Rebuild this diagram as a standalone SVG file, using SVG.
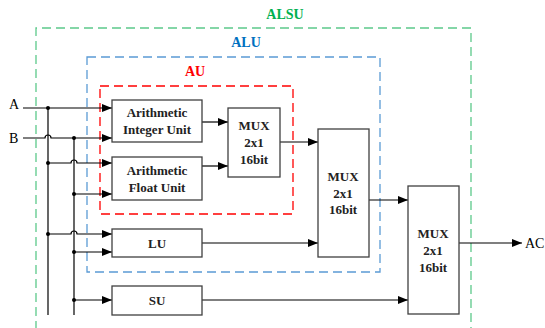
<svg xmlns="http://www.w3.org/2000/svg" width="545" height="328" viewBox="0 0 545 328">
<defs>
<marker id="ah" viewBox="0 0 10 8" refX="10" refY="4" markerWidth="10" markerHeight="8" markerUnits="userSpaceOnUse" orient="auto">
<path d="M0,0 L10,4 L0,8 Z" fill="#000"/>
</marker>
</defs>
<style>
.box{fill:#fff;stroke:#404040;stroke-width:1.3}
.lbl{font-family:"Liberation Serif",serif;font-weight:bold;font-size:13px;text-anchor:middle;fill:#222}
.io{font-family:"Liberation Serif",serif;font-size:14px;fill:#000}
.grp{fill:none;stroke-width:1.3;stroke-dasharray:9 5}
.ttl{font-family:"Liberation Serif",serif;font-weight:bold;font-size:14px;text-anchor:middle}
.w{fill:none;stroke:#000;stroke-width:1.2}
.a{fill:none;stroke:#000;stroke-width:1.2;marker-end:url(#ah)}
.dot{fill:#000}
</style>
<rect width="545" height="328" fill="#fff"/>
<g id="alsu">
<path class="grp" d="M36,330 L36,28 L471,28 L471,330" stroke="#5cc98a"/>
<text class="ttl" x="285" y="19" fill="#00b050">ALSU</text>
</g>
<g id="alu">
<rect class="grp" x="87" y="57" width="293" height="215" stroke="#5b9bd5"/>
<text class="ttl" x="246" y="47" fill="#0070c0">ALU</text>
</g>
<g id="au">
<rect class="grp" x="100" y="86" width="193" height="128" stroke="#ff0000"/>
<text class="ttl" x="195" y="76" fill="#ff0000">AU</text>
</g>
<g id="connectors">
<path class="a" d="M23,108 L112,108"/>
<path class="a" d="M23,138 L45,138 A3,3 0 0 1 51,138 L112,138"/>
<path class="w" d="M48,108 L48,315"/>
<path class="w" d="M74,138 L74,315"/>
<path class="a" d="M48,163 L71,163 A3,3 0 0 1 77,163 L112,163"/>
<path class="a" d="M74,194 L112,194"/>
<path class="a" d="M48,234 L71,234 A3,3 0 0 1 77,234 L112,234"/>
<path class="a" d="M74,252 L112,252"/>
<path class="a" d="M74,300 L112,300"/>
<circle class="dot" cx="48" cy="108" r="2"/>
<circle class="dot" cx="74" cy="138" r="2"/>
<circle class="dot" cx="48" cy="163" r="2"/>
<circle class="dot" cx="74" cy="194" r="2"/>
<circle class="dot" cx="48" cy="234" r="2"/>
<circle class="dot" cx="74" cy="252" r="2"/>
<circle class="dot" cx="74" cy="300" r="2"/>
<path class="a" d="M202,122 L228,122"/>
<path class="a" d="M202,166 L228,166"/>
<path class="a" d="M280,142 L318,142"/>
<path class="a" d="M202,243 L318,243"/>
<path class="a" d="M369,200 L408,200"/>
<path class="a" d="M202,300 L408,300"/>
<path class="a" d="M459,243 L522,243"/>
</g>
<g id="in-a"><text class="io" x="9" y="109">A</text></g>
<g id="in-b"><text class="io" x="9" y="143">B</text></g>
<g id="out-ac"><text class="io" x="525" y="248">AC</text></g>
<g id="aiu">
<rect class="box" x="112" y="100" width="90" height="42"/>
<text class="lbl" x="157" y="117">Arithmetic</text>
<text class="lbl" x="157" y="134">Integer Unit</text>
</g>
<g id="afu">
<rect class="box" x="112" y="157" width="90" height="43"/>
<text class="lbl" x="157" y="175">Arithmetic</text>
<text class="lbl" x="157" y="192">Float Unit</text>
</g>
<g id="lu">
<rect class="box" x="112" y="229" width="90" height="28"/>
<text class="lbl" x="157" y="248">LU</text>
</g>
<g id="su">
<rect class="box" x="112" y="286" width="90" height="29"/>
<text class="lbl" x="157" y="305">SU</text>
</g>
<g id="mux1">
<rect class="box" x="228" y="108" width="52" height="69"/>
<text class="lbl" x="254" y="130">MUX</text>
<text class="lbl" x="254" y="147">2x1</text>
<text class="lbl" x="254" y="164">16bit</text>
</g>
<g id="mux2">
<rect class="box" x="318" y="129" width="51" height="128"/>
<text class="lbl" x="343" y="181">MUX</text>
<text class="lbl" x="343" y="198">2x1</text>
<text class="lbl" x="343" y="214">16bit</text>
</g>
<g id="mux3">
<rect class="box" x="408" y="186" width="51" height="128"/>
<text class="lbl" x="433" y="238">MUX</text>
<text class="lbl" x="433" y="255">2x1</text>
<text class="lbl" x="433" y="272">16bit</text>
</g>
</svg>
